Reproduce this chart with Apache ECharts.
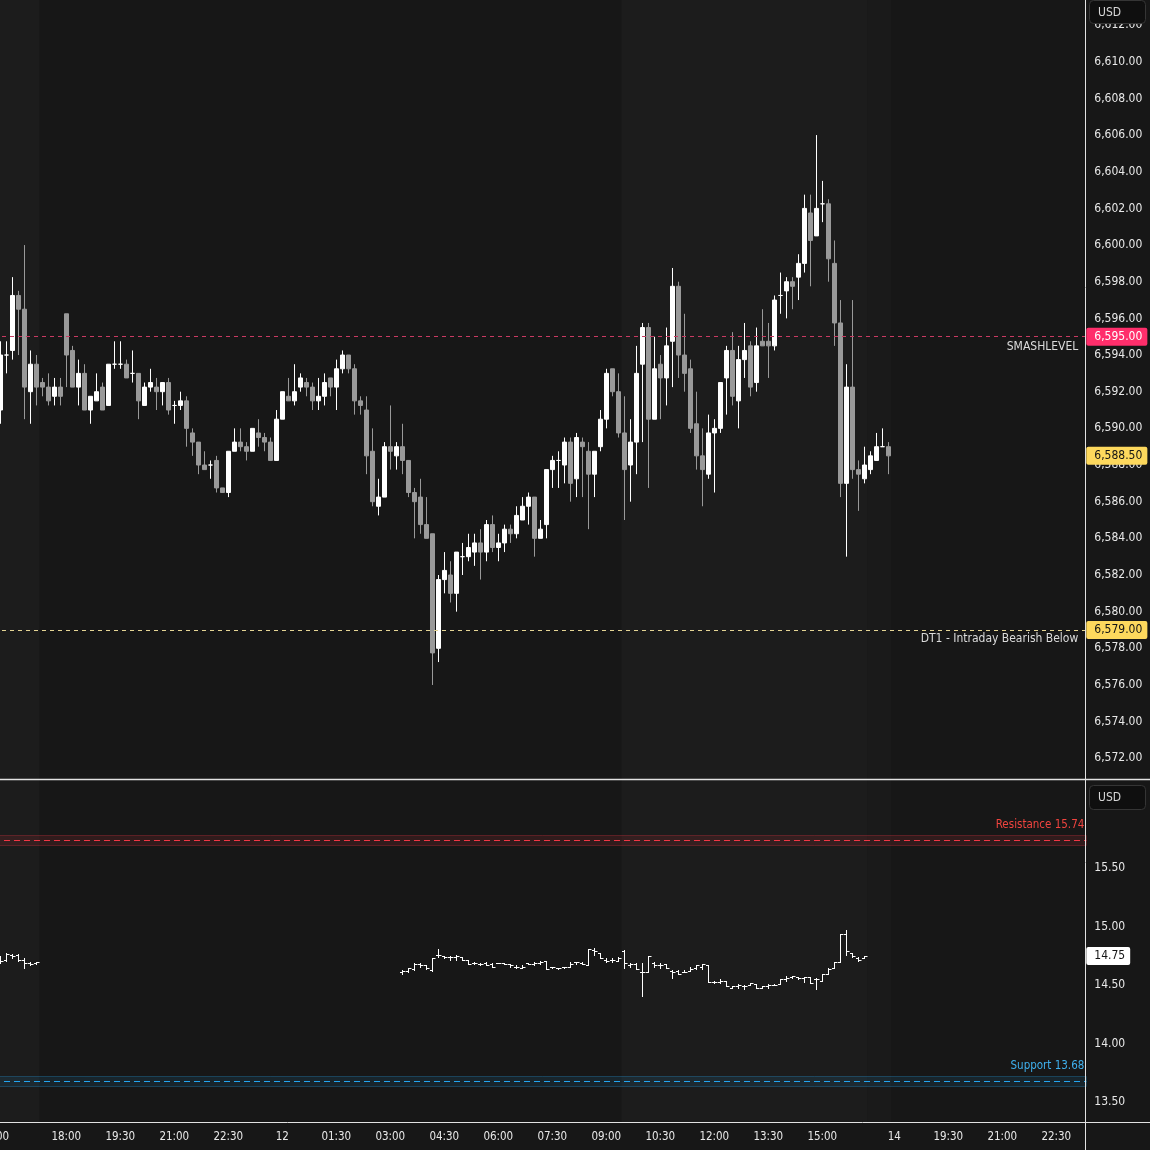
<!DOCTYPE html>
<html><head><meta charset="utf-8">
<script src="https://cdn.jsdelivr.net/npm/echarts@6/dist/echarts.min.js"></script>
<style>html,body{margin:0;padding:0;background:#171717;}#c{width:1150px;height:1150px;}</style>
</head><body><div id="c"></div>
<script>
// ---- DATA -------------------------------------------------------------
// 10-minute slots; slot 0 = 15:10 (Sep 11). Session break 17:00-18:00 skipped.
const ES_FIRST_SLOT = 0;
// ES bars: [open, high, low, close]
const esOHLC = [
[6591,6594.75,6590.25,6594],[6594,6594.75,6593,6594],[6594.25,6598.25,6593.75,6597.25],[6597.25,6597.5,6594,6596.5],
[6596.5,6600,6590.5,6592.25],[6592,6594.25,6590.25,6593.5],[6593.5,6594,6591.25,6592.25],[6592.5,6592.75,6591.75,6592.25],
[6592.25,6593,6591.25,6591.5],[6591.75,6592.75,6591.25,6592.25],[6592.25,6592.75,6591.25,6591.75],[6596.25,6596.25,6592.25,6594],
[6594.25,6594.5,6592.25,6592.25],[6592.25,6593.75,6591.25,6593],[6593,6593.5,6591,6591],[6591,6591.75,6590.25,6591.75],
[6591.5,6593,6591.5,6592],[6592.25,6592.5,6591,6591],[6591.25,6593.5,6591.25,6593.5],[6593.5,6594.75,6593.25,6593.5],
[6593.5,6594.75,6593.25,6593.5],[6593.5,6593.75,6592.75,6592.75],[6593,6594.25,6592.5,6593],[6593,6593,6590.5,6591.5],
[6591.25,6592.5,6591.25,6592.25],[6592.25,6593.25,6592,6592.5],[6592.25,6592.75,6591,6592],[6592,6592.5,6591.25,6592.5],
[6592.5,6592.75,6590.75,6591],[6591.25,6591.5,6590.25,6591.25],[6591.25,6592,6591,6591.5],[6591.5,6591.75,6589,6590],
[6589.75,6590,6588.5,6589.25],[6589.25,6589.25,6587.5,6588],[6588,6588.75,6587.75,6587.75],[6588,6588.25,6587.25,6588],
[6588.25,6588.5,6586.5,6586.75],[6586.75,6586.75,6586.5,6586.5],[6586.5,6588.75,6586.25,6588.75],[6588.75,6590,6588.75,6589.25],
[6589.25,6590,6588.75,6589],[6589,6589.25,6588.25,6588.75],[6588.75,6590,6588.75,6590],[6589.75,6590.5,6589,6589.5],
[6589.5,6589.75,6588.75,6589.25],[6589.25,6589.5,6588.25,6588.25],[6588.25,6591,6588.25,6590.5],[6590.5,6592,6590.5,6592],
[6591.75,6592.75,6591.5,6591.5],[6591.5,6593.5,6591.25,6592],[6592.25,6593,6592,6592.75],[6592.5,6592.75,6591.75,6592.25],
[6592.25,6592.5,6591,6591.5],[6591.5,6592.75,6591,6591.75],[6591.75,6593,6591.25,6592.5],[6592.75,6592.75,6591.75,6592.25],
[6592.25,6593.75,6591,6593.25],[6593.25,6594.25,6593,6594],[6594,6594,6593,6593.25],[6593.25,6593.5,6590.75,6591.5],
[6591.5,6591.75,6590.75,6591.25],[6591,6591.75,6587.5,6588.5],[6588.75,6590,6585.75,6586],[6585.75,6587.25,6585.25,6586.25],
[6586.25,6589.25,6586.25,6589],[6589,6591.25,6587.75,6588.75],[6588.5,6589.25,6587.75,6589],[6589,6590.25,6587.5,6588.25],
[6588.25,6588.25,6586.25,6586.5],[6586.5,6586.75,6584,6586],[6586.25,6587.25,6584.25,6584.75],[6584.75,6586.25,6584,6584],
[6584.25,6584.25,6576,6577.75],[6578,6582,6577.25,6581.75],[6581.75,6583.25,6581,6582.25],[6582,6582.75,6580.5,6581],
[6581,6583.25,6580,6583.25],[6583,6583.75,6582,6583],[6583,6584.25,6582.75,6583.5],[6583.25,6584.25,6582.5,6583.75],
[6583.75,6584.5,6581.75,6583.25],[6583.25,6585,6582.75,6584.75],[6584.75,6585.25,6583.25,6583.5],[6583.5,6584.25,6582.75,6583.75],
[6583.75,6584.75,6583.25,6584.5],[6584.5,6584.75,6583.75,6584.25],[6584.25,6585.75,6584,6585.25],[6585,6586.25,6585,6585.75],
[6585.75,6586.5,6584.75,6586.25],[6586.25,6586.25,6583,6584],[6584,6585,6584,6584.5],[6584.75,6587.75,6584,6587.75],
[6587.75,6588.5,6586.75,6588.25],[6588.25,6588.75,6586.75,6588.25],[6588,6589.5,6587,6589.25],[6589.25,6589.5,6586,6587],
[6587.25,6589.75,6586.25,6589.5],[6589.25,6589.5,6586.25,6589],[6588.75,6589.25,6584.5,6587.5],[6587.5,6588.75,6586.25,6588.75],
[6589,6591,6588.75,6590.5],[6590.5,6593.25,6590,6593],[6593.25,6593.25,6591.75,6592],[6592,6593,6589.5,6589.75],
[6589.75,6591.75,6585,6587.75],[6588,6590.5,6586,6589.25],[6589.25,6594.5,6587.5,6593],[6593.5,6595.75,6589.25,6595.5],
[6595.5,6595.75,6586.75,6590.5],[6590.5,6595,6590.5,6593.25],[6593.5,6594,6590.5,6592.75],[6592.75,6595.5,6591.25,6594.5],
[6594.75,6598.75,6592.25,6597.75],[6597.75,6598,6592.75,6594],[6594,6596.25,6592,6593],[6593.25,6593.75,6589.75,6590],
[6590.25,6592,6587.75,6588.5],[6588.5,6590,6585.75,6587.75],[6587.5,6590.75,6587.25,6589.75],[6589.75,6590.5,6586.5,6590],
[6590,6592.5,6589.75,6592.5],[6592.75,6594.5,6590.75,6594.25],[6594.25,6595.25,6591.25,6591.75],[6591.5,6594.5,6590,6593.75],
[6593.75,6595.75,6592.75,6594.25],[6594.5,6594.75,6591.75,6592.25],[6592.5,6595.5,6592,6594.5],[6594.75,6596.5,6594.5,6594.5],
[6594.75,6595.75,6592.75,6594.5],[6594.5,6597.25,6594.25,6597],[6597.25,6598.5,6596.25,6597.25],[6597.5,6598.25,6596,6598],
[6598,6598.25,6596.5,6597.75],[6598.25,6599.5,6597,6599],[6599,6602.75,6598.5,6602],[6601.75,6602.75,6597.75,6600.25],
[6600.5,6606,6600.5,6602],[6602.25,6603.5,6601.25,6602.25],[6602.25,6602.5,6598,6599.25],[6599,6600.25,6594.5,6595.75],
[6595.75,6597,6586.25,6587],[6587,6593.5,6583,6592.25],[6592.25,6597,6587.25,6587.75],[6587.75,6588.25,6585.5,6587.5],
[6587.25,6589,6587,6588],[6587.75,6588.75,6587.5,6588.5],[6588.25,6589.75,6588.25,6589],[6589,6590,6589,6589],
[6589,6589.25,6587.5,6588.5]
];
// VIX bars: [open, high, low, close]
const VIX_PREV_FIRST_SLOT = 0;
const vixPrevOHLC = [
[14.73,14.75,14.69,14.71],[14.72,14.78,14.71,14.77],[14.76,14.77,14.73,14.75],[14.76,14.77,14.71,14.72],
[14.72,14.73,14.65,14.69],[14.69,14.70,14.67,14.68],[14.69,14.70,14.68,14.70]
];
const VIX_DAY_FIRST_SLOT = 67;
const vixDayOHLC = [
[14.61,14.63,14.60,14.62],[14.62,14.65,14.61,14.65],[14.64,14.69,14.63,14.68],[14.68,14.69,14.66,14.67],
[14.67,14.67,14.64,14.65],[14.63,14.73,14.62,14.73],[14.76,14.81,14.74,14.76],[14.75,14.75,14.73,14.74],
[14.74,14.75,14.72,14.74],[14.74,14.76,14.72,14.75],[14.74,14.74,14.72,14.72],[14.72,14.72,14.68,14.68],
[14.69,14.70,14.68,14.69],[14.68,14.69,14.67,14.68],[14.69,14.70,14.67,14.67],[14.68,14.69,14.66,14.66],
[14.69,14.69,14.69,14.69],[14.69,14.69,14.68,14.68],[14.68,14.68,14.66,14.67],[14.66,14.67,14.65,14.66],
[14.65,14.67,14.65,14.66],[14.69,14.69,14.68,14.68],[14.68,14.70,14.67,14.69],[14.69,14.71,14.68,14.70],
[14.71,14.71,14.64,14.64],[14.66,14.66,14.65,14.66],[14.65,14.65,14.64,14.65],[14.66,14.66,14.65,14.66],
[14.66,14.70,14.66,14.68],[14.70,14.70,14.68,14.70],[14.69,14.70,14.68,14.68],[14.67,14.81,14.67,14.81],
[14.80,14.82,14.76,14.79],[14.78,14.78,14.73,14.73],[14.72,14.73,14.70,14.71],[14.72,14.73,14.70,14.72],
[14.71,14.74,14.71,14.73],[14.79,14.80,14.65,14.69],[14.67,14.69,14.66,14.68],[14.68,14.69,14.64,14.64],
[14.61,14.69,14.41,14.61],[14.61,14.75,14.61,14.75],[14.69,14.70,14.66,14.67],[14.67,14.69,14.65,14.67],
[14.68,14.68,14.65,14.65],[14.62,14.63,14.56,14.61],[14.62,14.63,14.60,14.60],[14.61,14.63,14.61,14.61],
[14.62,14.66,14.62,14.64],[14.65,14.67,14.64,14.67],[14.66,14.68,14.64,14.68],[14.67,14.67,14.53,14.53],
[14.53,14.54,14.52,14.53],[14.53,14.55,14.52,14.54],[14.54,14.54,14.49,14.49],[14.48,14.49,14.48,14.49],
[14.49,14.51,14.48,14.50],[14.49,14.50,14.47,14.49],[14.50,14.52,14.50,14.52],[14.51,14.51,14.48,14.48],
[14.48,14.49,14.48,14.49],[14.49,14.51,14.48,14.50],[14.50,14.51,14.50,14.50],[14.51,14.55,14.51,14.55],
[14.55,14.58,14.54,14.56],[14.57,14.58,14.56,14.58],[14.57,14.57,14.55,14.56],[14.56,14.57,14.53,14.57],
[14.57,14.57,14.52,14.52],[14.55,14.56,14.47,14.55],[14.54,14.60,14.54,14.60],[14.60,14.65,14.60,14.64],
[14.65,14.70,14.65,14.70],[14.70,14.94,14.70,14.94],[14.94,14.97,14.76,14.79],[14.78,14.78,14.74,14.75],
[14.73,14.74,14.71,14.72],[14.73,14.75,14.73,14.75]
];
// Levels
const smashLevel = 6595.00;
const dt1Level = 6579.00;
const resistanceLevel = 15.74;
const supportLevel = 13.68;
// Ticks
const priceTicks = [6572,6574,6576,6578,6580,6582,6584,6586,6588,6590,6592,6594,6596,6598,6600,6602,6604,6606,6608,6610,6612];
const vixTicks = [13.5,14.0,14.5,15.0,15.5];
const timeTickSlots  = [-1, 11, 20, 29, 38, 47, 56, 65, 74, 83, 92, 101, 110, 119, 128, 137, 149, 158, 167, 176];
const timeTickLabels = ['15:00','18:00','19:30','21:00','22:30','12','01:30','03:00','04:30','06:00','07:30','09:00','10:30','12:00','13:30','15:00','14','19:30','21:00','22:30'];
// Session shading (slot boundaries)
const lightSessions = [[-1.05, 6.5], [103.5, 144.5]];
const afterSessions = [[144.5, 148.5]];

// ---- CHART ------------------------------------------------------------
const FONT = "'DejaVu Sans Condensed', 'DejaVu Sans', 'Liberation Sans', sans-serif";
const TXT = '#e8e8e8';
const fmtPrice = v => v.toLocaleString('en-US', {minimumFractionDigits: 2, maximumFractionDigits: 2});
const fmtVix = v => v.toFixed(2);
const labelBySlot = {};
timeTickSlots.forEach((s, i) => labelBySlot[s] = timeTickLabels[i]);

const esData = esOHLC.map((b, i) => [ES_FIRST_SLOT + i, b[0], b[3], b[2], b[1]]);
const vixData = vixPrevOHLC.map((b, i) => [VIX_PREV_FIRST_SLOT + i, b[0], b[3], b[2], b[1]])
  .concat(vixDayOHLC.map((b, i) => [VIX_DAY_FIRST_SLOT + i, b[0], b[3], b[2], b[1]]));
const esLast = esOHLC[esOHLC.length - 1][3];
const vixLast = vixDayOHLC[vixDayOHLC.length - 1][3];

const shadeAreas = lightSessions.map(r => [{xAxis: r[0], itemStyle: {color: '#1c1c1c'}}, {xAxis: r[1]}])
  .concat(afterSessions.map(r => [{xAxis: r[0], itemStyle: {color: '#1a1a1a'}}, {xAxis: r[1]}]));

const priceBox = (val, bg, fg, text) => ({
  yAxis: val, lineStyle: {color: 'rgba(0,0,0,0)', width: 0},
  label: {show: true, position: 'end', distance: [0, 0], formatter: text, backgroundColor: bg, color: fg,
    fontFamily: FONT, fontSize: 12, padding: [3, 5, 2, 8], borderRadius: 2, lineHeight: 13}
});
const levelLine = (val, color, text, textColor, pos, dist) => ({
  yAxis: val, lineStyle: {color: color, type: [4, 4], width: 1},
  label: {show: true, position: pos, distance: dist, formatter: text, color: textColor, fontFamily: FONT, fontSize: 12}
});

const chart = echarts.init(document.getElementById('c'), null, {renderer: 'canvas'});
chart.setOption({
  backgroundColor: '#171717',
  animation: false,
  grid: [
    {left: -6, right: 63.7, top: 0, height: 779, outerBoundsMode: 'none', containLabel: false},
    {left: -6, right: 63.7, top: 779, height: 343.5, outerBoundsMode: 'none', containLabel: false}
  ],
  xAxis: [
    {type: 'value', gridIndex: 0, min: -1.05, max: 181, show: false},
    {type: 'value', gridIndex: 1, min: -1.05, max: 181,
      axisLine: {show: false}, axisTick: {show: false}, splitLine: {show: false},
      axisLabel: {customValues: timeTickSlots, formatter: v => labelBySlot[v] || '', color: TXT,
        fontFamily: FONT, fontSize: 11.5, margin: 9, hideOverlap: false}}
  ],
  yAxis: [
    {type: 'value', gridIndex: 0, position: 'right', min: 6570.871, max: 6613.369,
      axisLine: {show: false}, axisTick: {show: false}, splitLine: {show: false},
      axisLabel: {customValues: priceTicks, formatter: fmtPrice, color: TXT, fontFamily: FONT, fontSize: 12, margin: 8}},
    {type: 'value', gridIndex: 1, position: 'right', min: 13.327, max: 16.263,
      axisLine: {show: false}, axisTick: {show: false}, splitLine: {show: false},
      axisLabel: {customValues: vixTicks, formatter: fmtVix, color: TXT, fontFamily: FONT, fontSize: 12, margin: 8}}
  ],
  series: [
    {
      type: 'candlestick', xAxisIndex: 0, yAxisIndex: 0, data: esData, barWidth: 4, clip: false,
      itemStyle: {color: '#ffffff', color0: '#999999', borderColor: '#ffffff', borderColor0: '#999999',
        borderColorDoji: '#ffffff', borderWidth: 1},
      markArea: {silent: true, data: shadeAreas},
      markLine: {silent: true, symbol: ['none', 'none'], animation: false, data: [
        levelLine(smashLevel, '#c93a62', 'SMASHLEVEL', '#dcdcdc', 'insideEndBottom', [8, 4]),
        levelLine(dt1Level, '#e4d494', 'DT1 - Intraday Bearish Below', '#dcdcdc', 'insideEndBottom', [8, 3]),
        priceBox(smashLevel, '#ff2e6b', '#ffffff', fmtPrice(smashLevel)),
        priceBox(dt1Level, '#fdd85d', '#141414', fmtPrice(dt1Level)),
        priceBox(esLast, '#fdd85d', '#141414', fmtPrice(esLast))
      ]}
    },
    {
      type: 'custom', xAxisIndex: 1, yAxisIndex: 1, data: vixData, clip: false,
      encode: {x: 0, y: [1, 2, 3, 4]},
      renderItem: (params, api) => {
        const x = api.value(0);
        const o = api.coord([x, api.value(1)]);
        const c = api.coord([x, api.value(2)]);
        const l = api.coord([x, api.value(3)]);
        const h = api.coord([x, api.value(4)]);
        const px = Math.round(o[0]) + 0.5;
        const oy = Math.round(o[1]) + 0.5, cy = Math.round(c[1]) + 0.5;
        const st = {stroke: '#ffffff', lineWidth: 1};
        return {type: 'group', children: [
          {type: 'line', shape: {x1: px, y1: Math.round(h[1]), x2: px, y2: Math.round(l[1]) + 1}, style: st},
          {type: 'line', shape: {x1: px - 2.5, y1: oy, x2: px, y2: oy}, style: st},
          {type: 'line', shape: {x1: px, y1: cy, x2: px + 3, y2: cy}, style: st}
        ]};
      },
      markArea: {silent: true, data: shadeAreas.concat([
        [{yAxis: resistanceLevel - 0.045, itemStyle: {color: 'rgba(242,54,69,0.12)', borderColor: 'rgba(242,54,69,0.28)', borderWidth: 1}}, {yAxis: resistanceLevel + 0.04}],
        [{yAxis: supportLevel - 0.045, itemStyle: {color: 'rgba(41,170,240,0.10)', borderColor: 'rgba(41,170,240,0.28)', borderWidth: 1}}, {yAxis: supportLevel + 0.04}]
      ])},
      markLine: {silent: true, symbol: ['none', 'none'], animation: false, data: [
        {yAxis: resistanceLevel, lineStyle: {color: '#f23645', type: [6, 4], width: 1},
          label: {show: true, position: 'insideEndTop', distance: [2, 9], formatter: 'Resistance ' + fmtVix(resistanceLevel),
            color: '#f0443f', fontFamily: FONT, fontSize: 11.5}},
        {yAxis: supportLevel, lineStyle: {color: '#22a6f2', type: [6, 4], width: 1},
          label: {show: true, position: 'insideEndTop', distance: [2, 9], formatter: 'Support ' + fmtVix(supportLevel),
            color: '#3fb0ee', fontFamily: FONT, fontSize: 11.5}},
        priceBox(vixLast, '#ffffff', '#141414', fmtVix(vixLast))
      ]}
    }
  ],
  graphic: [
    {type: 'line', z: 100, shape: {x1: 0, y1: 779.5, x2: 1150, y2: 779.5}, style: {stroke: '#e2e2e2', lineWidth: 1.4}},
    {type: 'line', z: 100, shape: {x1: 0, y1: 1122.5, x2: 1150, y2: 1122.5}, style: {stroke: '#e2e2e2', lineWidth: 1}},
    {type: 'line', z: 100, shape: {x1: 1085.5, y1: 0, x2: 1085.5, y2: 1150}, style: {stroke: '#e2e2e2', lineWidth: 1}},
    {type: 'rect', z: 100, shape: {x: 1089.5, y: 0.5, width: 56, height: 23, r: 4}, style: {fill: '#0f0f0f', stroke: '#353535', lineWidth: 1}},
    {type: 'text', z: 101, x: 1098, y: 12.5, style: {text: 'USD', fill: '#d8d8d8', font: '12px ' + FONT, verticalAlign: 'middle'}},
    {type: 'rect', z: 100, shape: {x: 1089.5, y: 785.5, width: 56, height: 24, r: 4}, style: {fill: '#0f0f0f', stroke: '#353535', lineWidth: 1}},
    {type: 'text', z: 101, x: 1098, y: 797.5, style: {text: 'USD', fill: '#d8d8d8', font: '12px ' + FONT, verticalAlign: 'middle'}}
  ]
});
</script></body></html>
